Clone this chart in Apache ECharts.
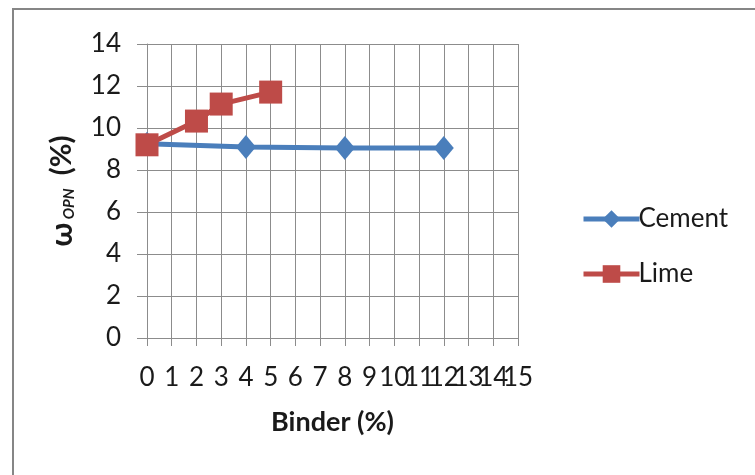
<!DOCTYPE html>
<html>
<head>
<meta charset="utf-8">
<script src="https://cdn.jsdelivr.net/npm/echarts@6/dist/echarts.min.js"></script>
<style>
  html, body { margin: 0; padding: 0; background: #fff; }
  #chart { width: 755px; height: 475px; }
</style>
</head>
<body>
<div id="chart"></div>
<script>
// Optimum water content versus binder content
const binderTicks = ['0', '1', '2', '3', '4', '5', '6', '7', '8', '9', '10', '11', '12', '13', '14', '15'];
const cementBinder = [0, 4, 8, 12];
const cementWopn = [9.25, 9.1, 9.05, 9.05];
const limeBinder = [0, 2, 3, 5];
const limeWopn = [9.2, 10.33, 11.14, 11.71];
const seriesNames = ['Cement', 'Lime'];

const FONT = 'Lato, "Open Sans", sans-serif';
const TEXT = '#1a1a1a';
const GRID_COLOR = '#8c8c8c';

// binder % maps straight onto the category index of binderTicks
const pairs = (xs, ys) => xs.map((x, i) => [binderTicks.indexOf(String(x)), ys[i]]);

const chart = echarts.init(document.getElementById('chart'));
chart.setOption({
  animation: false,
  backgroundColor: '#fff',
  graphic: [{
    type: 'rect',
    shape: { x: 13, y: 9, width: 800, height: 520 },
    style: { fill: 'none', stroke: '#868686', lineWidth: 2 },
    silent: true
  }],
  grid: { left: 147, top: 44, right: 237, bottom: 137 },
  legend: {
    orient: 'vertical',
    left: 576,
    top: 201,
    itemGap: 29,
    itemWidth: 56,
    itemHeight: 22,
    lineStyle: { width: 5 },
    textStyle: { fontFamily: FONT, fontSize: 26, color: TEXT, padding: [0, 0, 0, -6] },
    data: seriesNames
  },
  xAxis: {
    type: 'category',
    data: binderTicks,
    boundaryGap: false,
    name: 'Binder (%)',
    nameLocation: 'middle',
    nameGap: 71,
    nameTextStyle: { fontFamily: FONT, fontSize: 27, fontWeight: 'bold', color: TEXT },
    axisLine: { show: true, lineStyle: { color: GRID_COLOR, width: 1 } },
    axisTick: { show: true, inside: false, length: 8, interval: 0, lineStyle: { color: GRID_COLOR } },
    axisLabel: { fontFamily: FONT, fontSize: 26, color: TEXT, margin: 27, interval: 0 },
    splitLine: { show: true, interval: 0, lineStyle: { color: GRID_COLOR, width: 1 } }
  },
  yAxis: {
    type: 'value',
    min: 0, max: 14, interval: 2,
    name: '{w|ω} {sub|OPN}    {p|(%)}',
    nameLocation: 'middle',
    nameRotate: 90,
    nameGap: 70,
    nameTextStyle: {
      rich: {
        w: { fontFamily: FONT, fontSize: 30, fontWeight: 'bold', color: TEXT },
        sub: { fontFamily: FONT, fontSize: 15, fontWeight: 'bold', fontStyle: 'italic', color: TEXT, verticalAlign: 'bottom', padding: [12, 0, 0, 0] },
        p: { fontFamily: FONT, fontSize: 29, fontWeight: 'bold', color: TEXT }
      }
    },
    axisLine: { show: true, lineStyle: { color: GRID_COLOR, width: 1 } },
    axisTick: { show: true, inside: false, length: 10, lineStyle: { color: GRID_COLOR } },
    axisLabel: { fontFamily: FONT, fontSize: 26, color: TEXT, margin: 26 },
    splitLine: { show: true, lineStyle: { color: GRID_COLOR, width: 1 } }
  },
  series: [
    {
      name: seriesNames[0],
      type: 'line',
      data: pairs(cementBinder, cementWopn),
      symbol: 'diamond',
      symbolSize: [20, 24],
      lineStyle: { color: '#4a7ebb', width: 5 },
      itemStyle: { color: '#4a7ebb' },
      z: 2
    },
    {
      name: seriesNames[1],
      type: 'line',
      data: pairs(limeBinder, limeWopn),
      symbol: 'rect',
      symbolSize: 23,
      lineStyle: { color: '#be4b48', width: 5 },
      itemStyle: { color: '#be4b48' },
      z: 3
    }
  ]
});
</script>
</body>
</html>
